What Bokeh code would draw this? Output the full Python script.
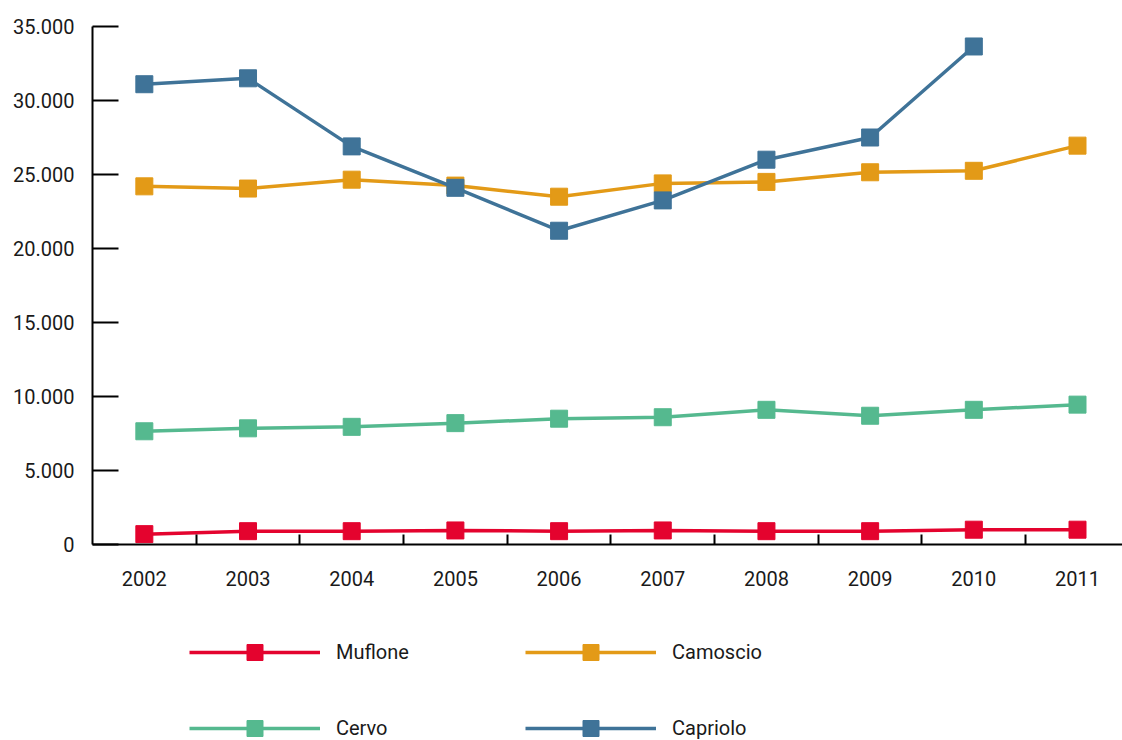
from bokeh.plotting import figure
from bokeh.layouts import column
from bokeh.models import (Range1d, FixedTicker, CustomJSTickFormatter, Legend, LegendItem,
                          ColumnDataSource)
from bokeh.embed import file_html
from bokeh.resources import INLINE

years = [2002, 2003, 2004, 2005, 2006, 2007, 2008, 2009, 2010, 2011]
muflone = [700, 900, 900, 950, 900, 950, 900, 900, 1000, 1000]
camoscio = [24200, 24050, 24650, 24250, 23500, 24400, 24500, 25150, 25250, 26950]
cervo = [7650, 7850, 7950, 8200, 8500, 8600, 9100, 8700, 9100, 9450]
capriolo = [31100, 31500, 26900, 24100, 21200, 23250, 26000, 27500, 33650, float("nan")]
series_names = ["Muflone", "Camoscio", "Cervo", "Capriolo"]
series_values = [muflone, camoscio, cervo, capriolo]
colors = ["#E4032E", "#E39A17", "#55B98F", "#3F7398"]
legend_order = ["Muflone", "Cervo", "Camoscio", "Capriolo"]  # column-wise fill
y_ticks = [0, 5000, 10000, 15000, 20000, 25000, 30000, 35000]

FONT = "Roboto"
TXT = "#1a1a1a"

p = figure(width=1122, height=600, output_backend="svg", toolbar_location=None,
           x_range=Range1d(2001.5, 2011.434), y_range=Range1d(0, 35000),
           min_border_left=92, min_border_right=0, min_border_top=26, min_border_bottom=56)
p.outline_line_color = None
p.xgrid.visible = False
p.ygrid.visible = False

# y axis
ya = p.yaxis[0]
ya.ticker = FixedTicker(ticks=y_ticks, minor_ticks=[])
ya.formatter = CustomJSTickFormatter(code="return Math.round(tick).toString().replace(/\\B(?=(\\d{3})+(?!\\d))/g, '.');")
ya.major_tick_in = 26
ya.major_tick_out = 0
ya.minor_tick_in = 0
ya.minor_tick_out = 0
ya.axis_line_width = 2
ya.major_tick_line_width = 2
ya.axis_line_color = "black"
ya.major_tick_line_color = "black"
ya.major_label_standoff = 18
ya.major_label_text_font = FONT
ya.major_label_text_font_size = "20px"
ya.major_label_text_color = TXT

# x axis
xa = p.xaxis[0]
boundaries = [y + 0.5 for y in years[:-1]]
xa.ticker = FixedTicker(ticks=years, minor_ticks=boundaries)
xa.major_tick_in = 0
xa.major_tick_out = 0
xa.minor_tick_in = 10
xa.minor_tick_out = 0
xa.minor_tick_line_color = "black"
xa.minor_tick_line_width = 2
xa.axis_line_width = 2
xa.axis_line_color = "black"
xa.major_label_standoff = 26
xa.major_label_text_font = FONT
xa.major_label_text_font_size = "20px"
xa.major_label_text_color = TXT

for name, vals, col in zip(series_names, series_values, colors):
    src = ColumnDataSource(dict(x=years, y=vals))
    p.line("x", "y", source=src, line_color=col, line_width=3.5)
    p.scatter("x", "y", source=src, marker="square", size=17,
              fill_color=col, line_color=col)

# legend panel (second figure below the chart)
p2 = figure(width=1122, height=140, output_backend="svg", toolbar_location=None,
            x_range=Range1d(0, 1), y_range=Range1d(0, 1),
            min_border_left=0, min_border_right=0, min_border_top=0, min_border_bottom=0)
p2.outline_line_color = None
p2.axis.visible = False
p2.grid.visible = False

by_name = {}
for name, vals, col in zip(series_names, series_values, colors):
    src = ColumnDataSource(dict(x=years, y=vals))
    ln = p2.line("x", "y", source=src, line_color=col, line_width=3.5)
    sc = p2.scatter("x", "y", source=src, marker="square", size=17,
                    fill_color=col, line_color=col)
    by_name[name] = LegendItem(label=name, renderers=[ln, sc])
items = [by_name[n] for n in legend_order]

legend = Legend(items=items, ncols=2, location=(97, -8),
                glyph_width=131, glyph_height=40, label_standoff=16,
                label_width=153, spacing=36, padding=0, margin=0,
                border_line_color=None, background_fill_alpha=0,
                label_text_font=FONT, label_text_font_size="20px",
                label_text_color=TXT)
p2.add_layout(legend, "center")

open("out.html", "w").write(file_html(column(p, p2, spacing=0), INLINE))
